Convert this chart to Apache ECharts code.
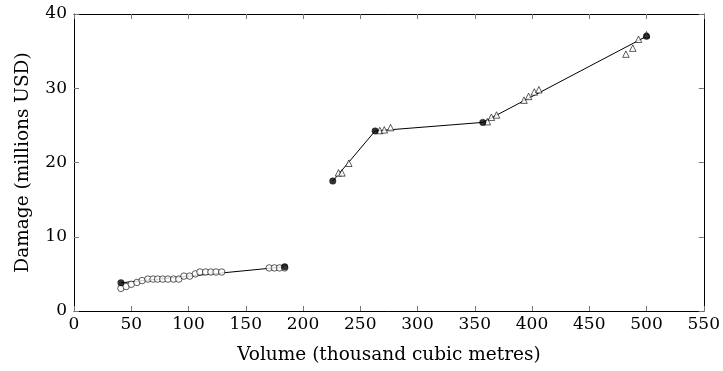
<!DOCTYPE html>
<html>
<head>
<meta charset="utf-8">
<script src="https://cdn.jsdelivr.net/npm/echarts@6/dist/echarts.min.js"></script>
<style>html,body{margin:0;padding:0;background:#fff}#c{width:723px;height:371px}</style>
</head>
<body>
<div id="c"></div>
<script>
// Open circles (small-volume events)
const circleX = [41, 45.5, 50, 55, 59.5, 64.5, 69, 73, 77.5, 82, 87, 91.5, 96, 101, 106, 110, 115, 119.5, 124, 129, 170.5, 175, 179.5, 184];
const circleY = [3.05, 3.3, 3.6, 3.85, 4.1, 4.3, 4.3, 4.3, 4.3, 4.3, 4.3, 4.3, 4.7, 4.7, 5.0, 5.25, 5.25, 5.25, 5.25, 5.25, 5.8, 5.8, 5.8, 5.8];
// Open triangles (large-volume events)
const triX = [231, 234, 240, 267, 271, 276.5, 361, 364.5, 369, 393, 397, 402, 406, 482, 488, 493, 500];
const triY = [18.6, 18.6, 19.9, 24.3, 24.4, 24.7, 25.5, 26.1, 26.4, 28.4, 28.9, 29.5, 29.8, 34.6, 35.4, 36.6, 37.2];
// Fitted piecewise lines (knots shown as filled circles)
const fit1X = [41, 184];
const fit1Y = [3.8, 5.95];
const fit2X = [226, 263, 357, 500];
const fit2Y = [17.5, 24.25, 25.4, 37];
// Axis ticks
const xTicks = [0, 50, 100, 150, 200, 250, 300, 350, 400, 450, 500, 550];
const yTicks = [0, 10, 20, 30, 40];

const zip = (a, b) => a.map((v, i) => [v, b[i]]);
const font = '"DejaVu Serif", "Liberation Serif", serif';
const fs = 17;
const tfs = 18.5;
const tickStyle = {show: true, inside: true, length: 5, lineStyle: {color: '#777', width: 1}};
const axisLine = {show: true, onZero: false, lineStyle: {color: '#000', width: 1}};

const chart = echarts.init(document.getElementById('c'), null, {renderer: 'canvas'});
chart.setOption({
  animation: false,
  backgroundColor: '#fff',
  grid: {left: 74, right: 14, top: 14, bottom: 60},
  xAxis: [{
    type: 'value', min: xTicks[0], max: xTicks[xTicks.length - 1], interval: 50,
    name: 'Volume (thousand cubic metres)', nameLocation: 'middle', nameGap: 35,
    nameTextStyle: {fontFamily: font, fontSize: tfs, color: '#000'},
    axisLine: axisLine, axisTick: tickStyle,
    axisLabel: {fontFamily: font, fontSize: fs, color: '#000', margin: 5},
    splitLine: {show: false}
  }, {
    type: 'value', position: 'top', min: xTicks[0], max: xTicks[xTicks.length - 1], interval: 50,
    axisLine: axisLine, axisTick: tickStyle,
    axisLabel: {show: false}, splitLine: {show: false}
  }],
  yAxis: [{
    type: 'value', min: yTicks[0], max: yTicks[yTicks.length - 1], interval: 10,
    name: 'Damage (millions USD)', nameLocation: 'middle', nameGap: 41,
    nameTextStyle: {fontFamily: font, fontSize: tfs, color: '#000'},
    axisLine: axisLine, axisTick: tickStyle,
    axisLabel: {fontFamily: font, fontSize: fs, color: '#000', margin: 7},
    splitLine: {show: false}
  }, {
    type: 'value', position: 'right', min: yTicks[0], max: yTicks[yTicks.length - 1], interval: 10,
    axisLine: axisLine, axisTick: tickStyle,
    axisLabel: {show: false}, splitLine: {show: false}
  }],
  series: [
    {type: 'line', data: zip(fit1X, fit1Y), symbol: 'none', lineStyle: {color: '#000', width: 1}, z: 2},
    {type: 'line', data: zip(fit2X, fit2Y), symbol: 'none', lineStyle: {color: '#000', width: 1}, z: 2},
    {type: 'scatter', data: zip(circleX, circleY), symbol: 'circle', symbolSize: 6.5,
      itemStyle: {color: '#fff', borderColor: '#000', borderWidth: 0.8}, z: 3},
    {type: 'scatter', data: zip(triX, triY), symbol: 'triangle', symbolSize: 6.5,
      itemStyle: {color: '#fff', borderColor: '#000', borderWidth: 0.8}, z: 3},
    {type: 'scatter', data: zip(fit1X, fit1Y).concat(zip(fit2X, fit2Y)), symbol: 'circle', symbolSize: 6.5,
      itemStyle: {color: '#000', borderColor: '#000', borderWidth: 0.5}, z: 4}
  ]
});
</script>
</body>
</html>
